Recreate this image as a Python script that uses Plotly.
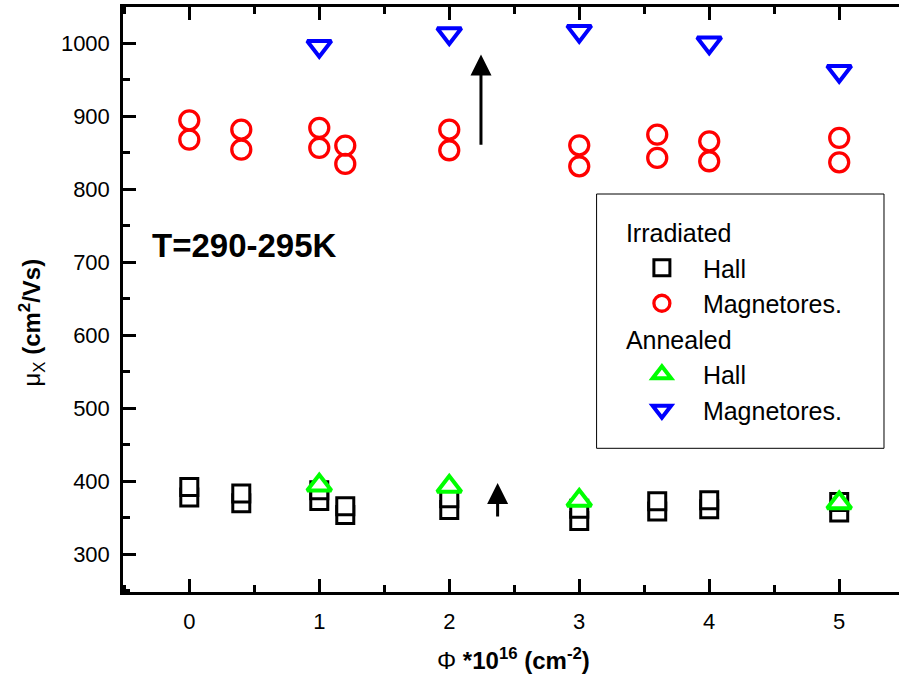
import plotly.graph_objects as go

# ---- data ----
irr_hall_x = [0, 0, 0.4, 0.4, 1, 1, 1.2, 1.2, 2, 2, 3, 3, 3.6, 3.6, 4, 4, 5, 5]
irr_hall_y = [377.5, 392.1, 369.7, 383.0, 372.9, 387.6, 353.7, 365.6, 360.5, 376.6,
              345.4, 362.2, 358.3, 372.5, 361.5, 373.8, 357.0, 371.5]

irr_mr_x = [0, 0, 0.4, 0.4, 1, 1, 1.2, 1.2, 2, 2, 3, 3, 3.6, 3.6, 4, 4, 5, 5]
irr_mr_y = [868.2, 894.7, 854.5, 882.0, 856.9, 884.3, 834.9, 860.0, 853.6, 882.0,
            831.6, 860.4, 843.1, 875.1, 838.5, 865.9, 837.1, 870.6]

ann_hall_x = [1, 2, 3, 5]
ann_hall_y = [394.3, 392.7, 373.5, 370.0]

ann_mr_x = [1, 2, 3, 4, 5]
ann_mr_y = [996.3, 1013.7, 1016.9, 1001.0, 962.0]

# arrows: (x, y_tail, y_head)
arrow_x = [2.244, 2.372]
arrow_tail = [859.0, 349.4]
arrow_head = [985.0, 397.4]

x_range = [-0.51, 5.46]
y_range = [248, 1050]

FONT = "Liberation Sans, Arial, sans-serif"
LEG_FS = 25

fig = go.Figure()

fig.add_trace(go.Scatter(
    x=irr_hall_x, y=irr_hall_y, mode="markers", name="Hall",
    legendgroup="irr", legendgrouptitle=dict(text="Irradiated", font=dict(size=LEG_FS, color="black", family=FONT)),
    marker=dict(symbol="square", size=17, color="white", line=dict(color="black", width=3)),
))
fig.add_trace(go.Scatter(
    x=irr_mr_x, y=irr_mr_y, mode="markers", name="Magnetores.",
    legendgroup="irr",
    marker=dict(symbol="circle", size=19, color="rgba(0,0,0,0)", line=dict(color="#ff0000", width=3.3)),
))
fig.add_trace(go.Scatter(
    x=ann_hall_x, y=ann_hall_y, mode="markers", name="Hall",
    legendgroup="ann", legendgrouptitle=dict(text="Annealed", font=dict(size=LEG_FS, color="black", family=FONT)),
    marker=dict(symbol="triangle-up", size=21, color="white", line=dict(color="#00ff00", width=4)),
))
fig.add_trace(go.Scatter(
    x=ann_mr_x, y=ann_mr_y, mode="markers", name="Magnetores.",
    legendgroup="ann",
    marker=dict(symbol="triangle-down", size=21, color="white", line=dict(color="#0000ff", width=4)),
))

annotations = []
for xa, yt, yh in zip(arrow_x, arrow_tail, arrow_head):
    annotations.append(dict(
        x=xa, y=yh, ax=xa, ay=yt, xref="x", yref="y", axref="x", ayref="y",
        text="", showarrow=True, arrowhead=2, arrowsize=1.4, arrowwidth=3, arrowcolor="black",
    ))

annotations.append(dict(
    x=-0.30, y=722.8, xref="x", yref="y", xanchor="left", yanchor="middle",
    text="<b>T=290-295K</b>", showarrow=False, font=dict(size=33, color="black", family=FONT),
))
annotations.append(dict(
    x=(32 - 123.3) / 775.7, y=0.46, xref="paper", yref="paper", xanchor="center", yanchor="middle",
    textangle=-90, showarrow=False,
    text="μ<sub>X</sub> <b>(cm<sup>2</sup>/Vs)</b>", font=dict(size=24, color="black", family=FONT),
))
annotations.append(dict(
    x=0.5037, y=-0.1145, xref="paper", yref="paper", xanchor="center", yanchor="middle",
    showarrow=False,
    text="Φ <b>*10<sup>16</sup> (cm<sup>-2</sup>)</b>", font=dict(size=24, color="black", family=FONT),
))

tick_font = dict(size=22, color="black", family=FONT)

fig.update_xaxes(
    range=x_range, tick0=0, dtick=1,
    showline=True, linecolor="black", linewidth=2.5, mirror="ticks",
    ticks="inside", ticklen=13, tickwidth=2.5, tickcolor="black",
    minor=dict(ticks="inside", ticklen=7, tickwidth=2.5, tickcolor="black", dtick=0.5, showgrid=False),
    showgrid=False, zeroline=False, tickfont=tick_font, ticklabelstandoff=8,
)
fig.update_yaxes(
    range=y_range, tick0=0, dtick=100,
    showline=True, linecolor="black", linewidth=2.5, mirror=False,
    ticks="inside", ticklen=13, tickwidth=2.5, tickcolor="black",
    minor=dict(ticks="inside", ticklen=7, tickwidth=2.5, tickcolor="black", dtick=50, showgrid=False),
    showgrid=False, zeroline=False, tickfont=tick_font, ticklabelstandoff=6,
)

fig.update_layout(
    width=899, height=675,
    margin=dict(l=123, r=0, t=7, b=83, autoexpand=False),
    paper_bgcolor="white", plot_bgcolor="white",
    font=dict(family=FONT, color="black"),
    yaxis2=dict(
        overlaying="y", side="right", range=y_range, tick0=0, dtick=100,
        showline=False, ticks="inside", ticklen=4, tickwidth=2.5, tickcolor="black",
        minor=dict(ticks="inside", ticklen=4, tickwidth=2.5, tickcolor="black", dtick=50, showgrid=False),
        showticklabels=False, showgrid=False, zeroline=False,
    ),
    showlegend=True,
    legend=dict(
        x=(621 - 123.3) / 775.7, y=(592 - 209.5) / 585, xanchor="left", yanchor="top",
        bgcolor="rgba(0,0,0,0)", borderwidth=0,
        font=dict(size=LEG_FS, color="black", family=FONT),
        tracegroupgap=0, itemwidth=72, itemsizing="trace",
    ),
    shapes=[dict(
        type="rect", xref="paper", yref="paper", layer="below",
        x0=(596.7 - 123.3) / 775.7, x1=(884 - 123.3) / 775.7,
        y0=(592 - 448.3) / 585, y1=(592 - 194) / 585,
        line=dict(color="black", width=1), fillcolor="white",
    )],
    annotations=annotations,
)

fig.write_html("out.html")
